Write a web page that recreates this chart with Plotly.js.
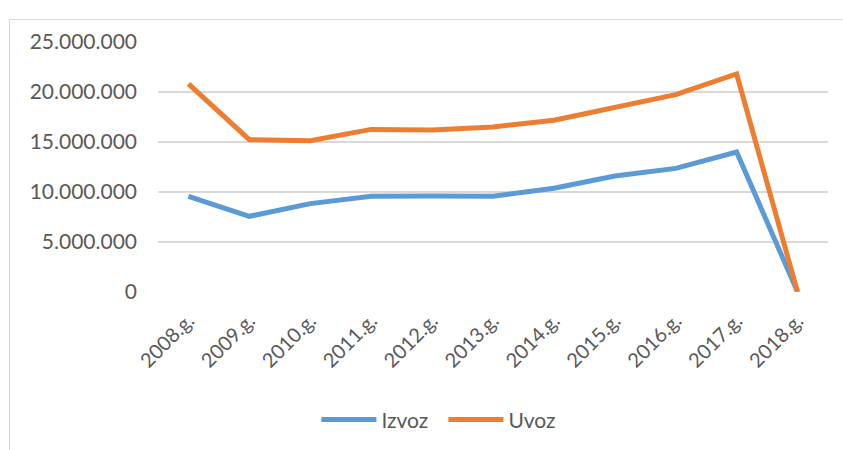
<!DOCTYPE html>
<html>
<head>
<meta charset="utf-8">
<script src="https://cdn.plot.ly/plotly-3.0.1.min.js"></script>
<style>
html,body{margin:0;padding:0;background:#fff;overflow:hidden;}
#frame{position:absolute;left:9px;top:19px;width:900px;height:500px;border:1px solid #d9d9d9;box-sizing:border-box;}
#chart{position:absolute;left:0;top:0;width:843px;height:450px;}
</style>
</head>
<body>
<div id="frame"></div>
<div id="chart"></div>
<script>
const categories = ["2008.g.","2009.g.","2010.g.","2011.g.","2012.g.","2013.g.","2014.g.","2015.g.","2016.g.","2017.g.","2018.g."];
const izvoz = [9570000, 7570000, 8840000, 9570000, 9600000, 9570000, 10370000, 11600000, 12360000, 14000000, 0];
const uvoz  = [20810000, 15230000, 15130000, 16260000, 16200000, 16500000, 17180000, 18500000, 19730000, 21800000, 0];
const seriesNames = ["Izvoz", "Uvoz"];

const font = "Lato, 'Open Sans', sans-serif";
const traces = [
  {x: categories, y: izvoz, name: seriesNames[0], type: "scatter", mode: "lines",
   line: {color: "#5B9BD5", width: 5}},
  {x: categories, y: uvoz, name: seriesNames[1], type: "scatter", mode: "lines",
   line: {color: "#ED7D31", width: 5}}
];
const layout = {
  width: 843, height: 450,
  margin: {l: 158, r: 15, t: 42, b: 157},
  paper_bgcolor: "rgba(0,0,0,0)", plot_bgcolor: "rgba(0,0,0,0)",
  separators: ",.",
  font: {family: font, size: 20, color: "#595959"},
  showlegend: true,
  legend: {orientation: "h", x: 0.426, xanchor: "center", y: -0.505, yanchor: "middle",
           font: {family: font, size: 21, color: "#595959"}, itemwidth: 55,
           entrywidth: 57, entrywidthmode: "pixels"},
  xaxis: {type: "category", range: [-0.5, 10.5], tickangle: -45, showgrid: false, showline: false, zeroline: false,
          ticks: "", ticklabelstandoff: 12, tickfont: {family: font, size: 20, color: "#595959"}},
  yaxis: {range: [0, 25000000], tickvals: [0, 5000000, 10000000, 15000000, 20000000, 25000000],
          tickformat: ",.0f", showgrid: true, gridcolor: "#d9d9d9", gridwidth: 2,
          zeroline: false, showline: false, ticks: "", ticklabelstandoff: 20,
          tickfont: {family: font, size: 21, color: "#595959"}}
};
Plotly.newPlot("chart", traces, layout, {displayModeBar: false, staticPlot: true});
</script>
</body>
</html>
